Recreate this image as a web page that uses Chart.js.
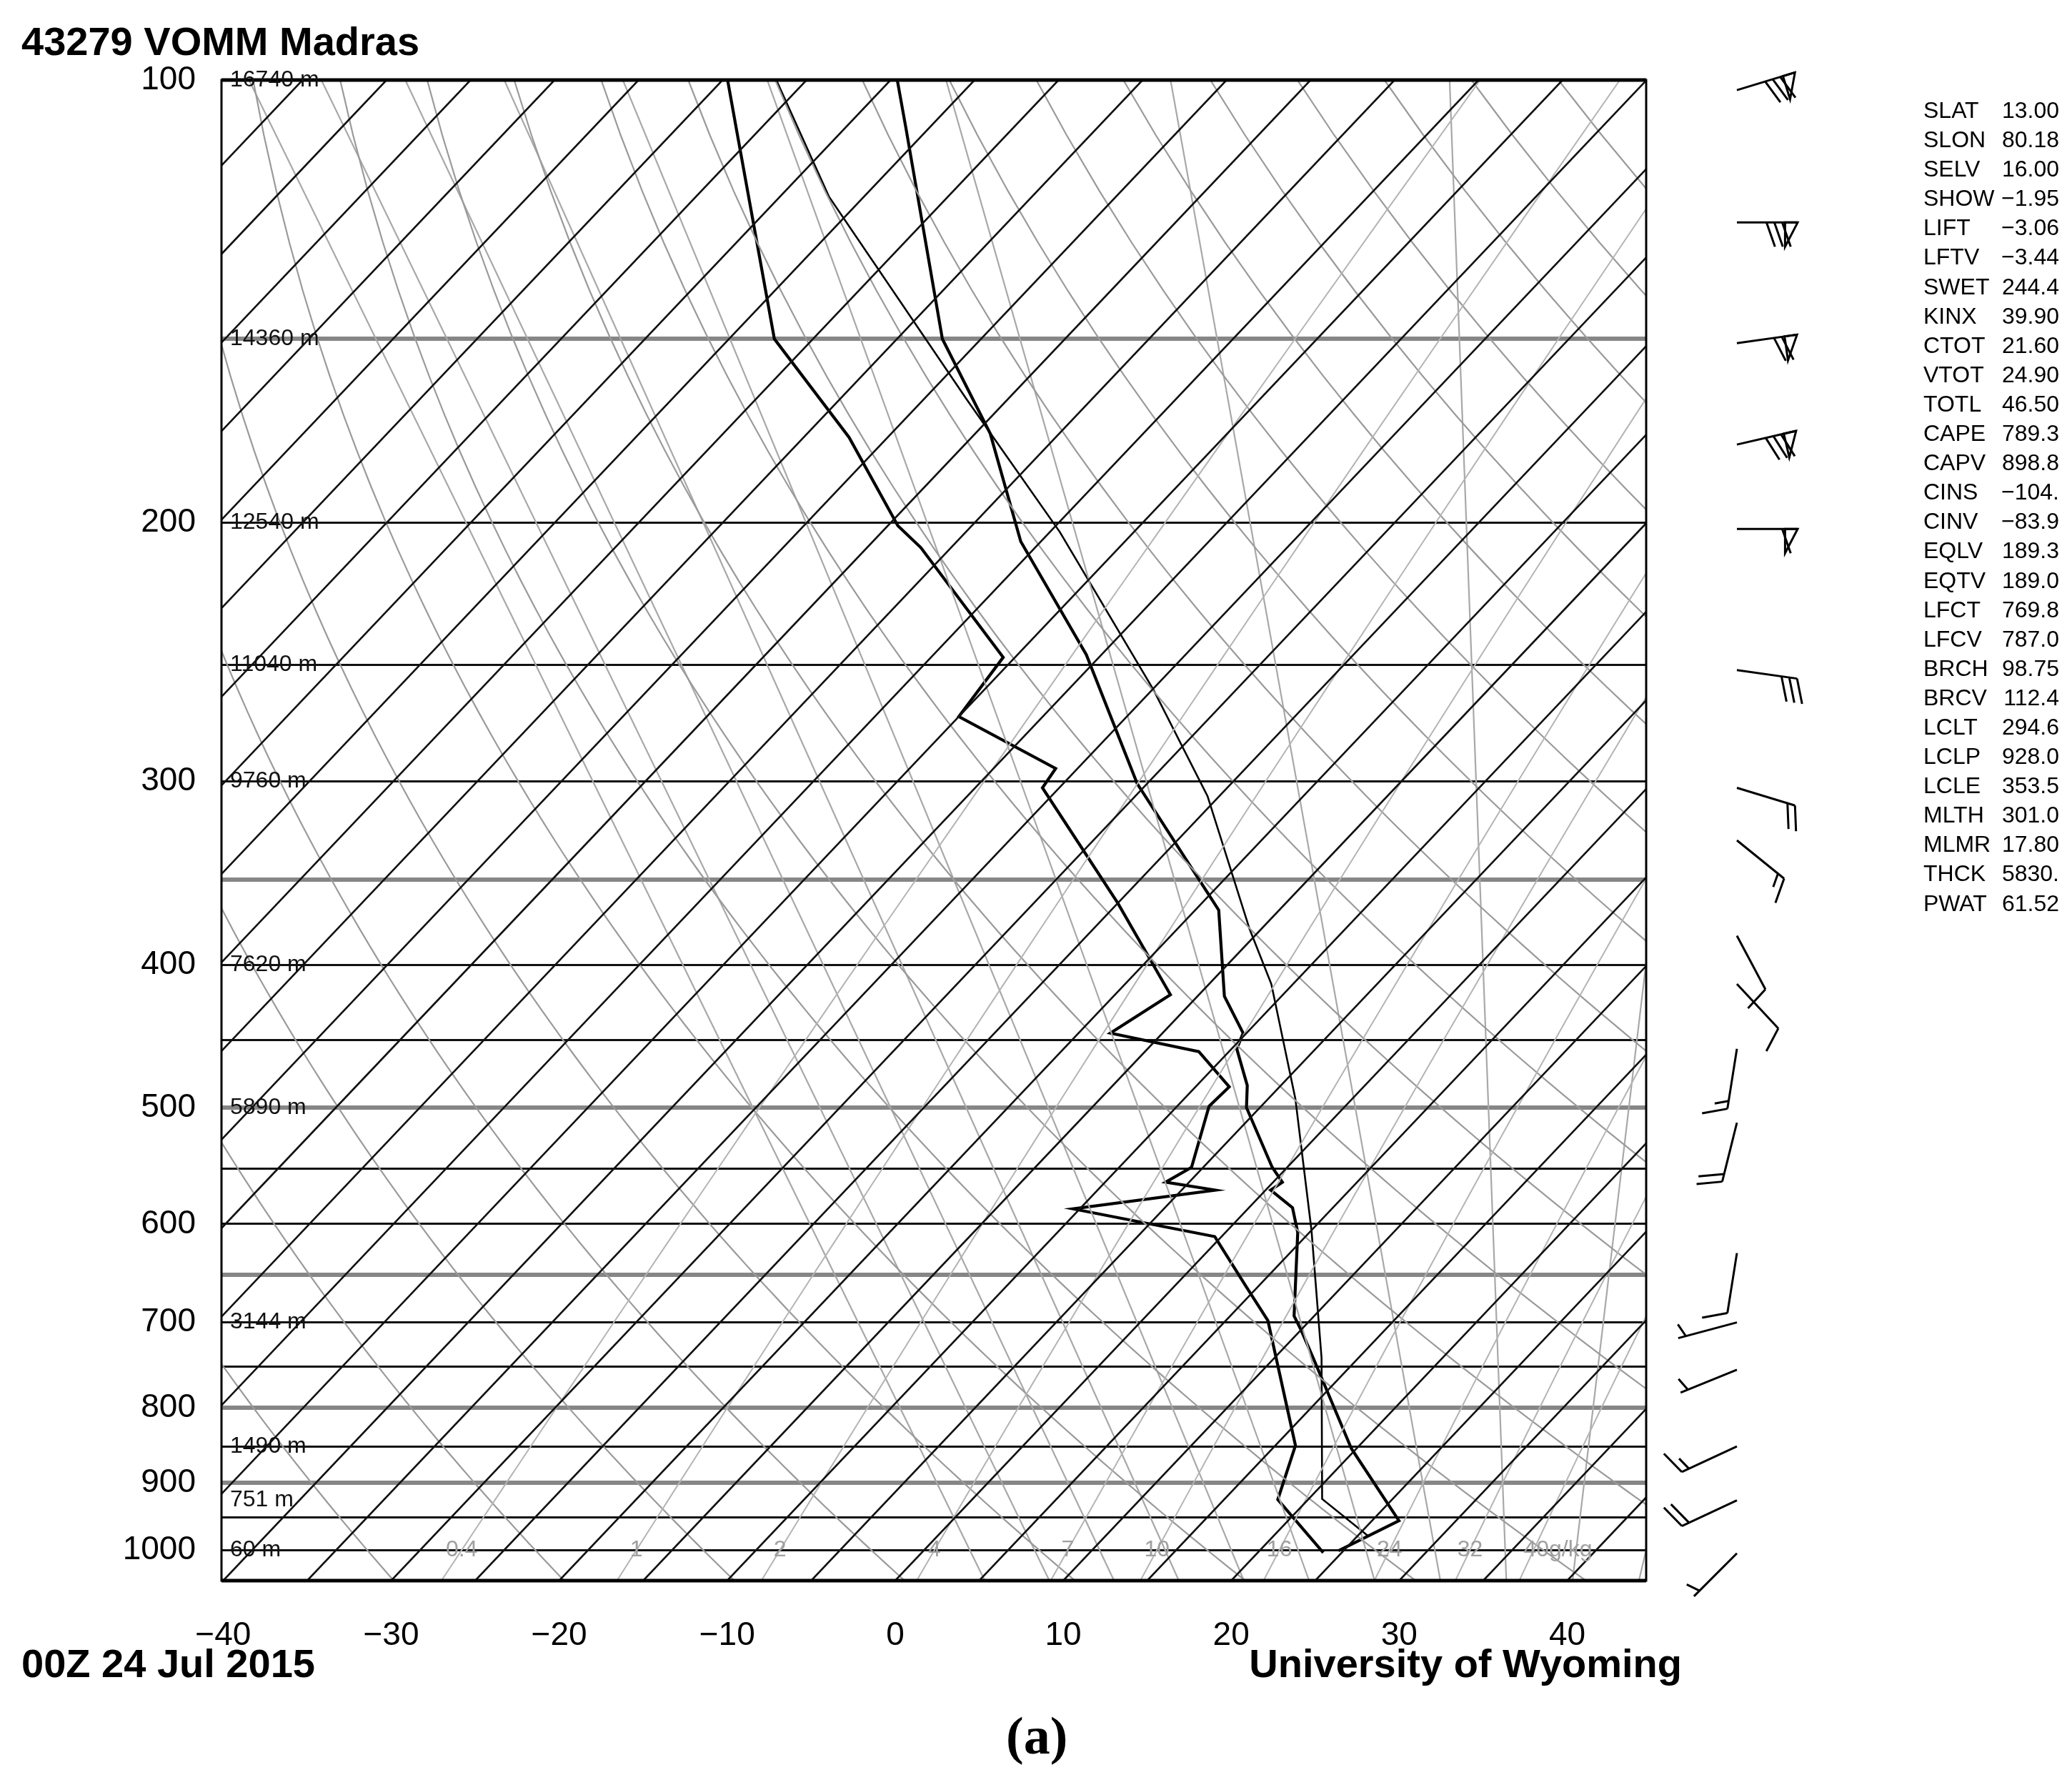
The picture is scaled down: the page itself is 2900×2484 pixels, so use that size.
<!DOCTYPE html>
<html>
<head>
<meta charset="utf-8">
<script src="https://cdn.jsdelivr.net/npm/chart.js@4.4.1/dist/chart.umd.min.js"></script>
<style>
  body { margin: 0; background: #fff; font-family: "Liberation Sans", Arial, sans-serif; }
  #wrap { position: relative; width: 2900px; height: 2484px; }
  canvas { position: absolute; left: 0; top: 0; }
  .t { position: absolute; white-space: nowrap; line-height: 1; }
  .big { font-weight: bold; font-size: 56px; }
  #idx { position: absolute; left: 2692px; top: 134px; width: 190px; font-size: 32px; }
  #idx div { height: 41.1px; line-height: 41.1px; position: relative; }
  #idx span { position: absolute; right: 0; }
</style>
</head>
<body>
<div id="wrap">
  <canvas id="skewt" width="2900" height="2484"></canvas>
  <div class="t big" style="left:30px;top:30px;">43279 VOMM Madras</div>
  <div class="t big" style="left:30px;top:2300px;">00Z 24 Jul 2015</div>
  <div class="t big" style="right:546px;top:2300px;">University of Wyoming</div>
  <div class="t" style="left:1408px;top:2392px;font-family:'Liberation Serif',serif;font-weight:bold;font-size:74px;">(a)</div>
  <div id="idx"></div>
</div>
<script>
// skew: degrees of x shift per decade of pressure, bottom pressure of the diagram
const SKEW = 83;
const P_BOT = 1049;

// sounding (hPa, degC)
const tempP = [1001, 955, 853, 740, 707, 693, 608, 585, 569, 562, 549, 500, 483, 456, 445, 420, 367, 301, 246, 206, 174, 150, 108, 100];
const tempT = [24.7, 26.6, 19.7, 12.3, 9.9, 8.8, 4.3, 2.6, 0.3, 0.55, -0.9, -5.8, -7.0, -9.7, -10.2, -13.4, -18.6, -30.6, -40.9, -51.2, -59.1, -67.3, -81.3, -84.6];
const dewP = [1004, 924, 849, 698, 662, 612, 586, 569, 562, 549, 499, 484, 458, 445, 419, 363, 303, 294, 271, 247, 208, 201, 175, 150, 108, 100];
const dewT = [23.9, 18.2, 16.2, 7.5, 4.3, -0.4, -10.4, -3.0, -6.4, -5.7, -8.1, -8.0, -11.8, -18.1, -16.7, -25.0, -36.0, -36.3, -45.0, -45.7, -56.8, -59.4, -67.3, -77.3, -91.4, -94.7];
// lifted parcel path
const parcelP = [979, 923, 740, 606, 493, 412, 378, 307, 260, 203, 165, 120, 100];
const parcelT = [25.7, 20.8, 12.8, 5.0, -3.4, -11.3, -15.7, -25.7, -34.9, -49.4, -62.4, -82.1, -91.8];

// pressure levels drawn as horizontal lines
const levels = [100, 150, 200, 250, 300, 350, 400, 450, 500, 550, 600, 650, 700, 750, 800, 850, 900, 950, 1000];
const grayLevels = [150, 350, 500, 650, 800, 900];
const labelLevels = [100, 200, 300, 400, 500, 600, 700, 800, 900, 1000];
const xTicks = [-40, -30, -20, -10, 0, 10, 20, 30, 40];

// standard heights
const heightP = [100, 150, 200, 250, 300, 400, 500, 700, 850, 925, 1000];
const heightM = ['16740 m', '14360 m', '12540 m', '11040 m', '9760 m', '7620 m', '5890 m', '3144 m', '1490 m', '751 m', '60 m'];

// wind barbs
const windP = [101.6, 125, 151, 177, 202, 252, 303, 329, 382, 412, 456, 512, 628, 700, 754, 850, 925, 1005];
const windDir = [73, 90, 82, 77, 90, 98, 107, 129, 152, 137, 189, 194, 189, 255, 248, 245, 245, 225];
const windKt = [80, 80, 70, 80, 60, 30, 20, 15, 10, 10, 15, 20, 10, 5, 5, 15, 20, 5];

// station indices
const idxNames = ['SLAT', 'SLON', 'SELV', 'SHOW', 'LIFT', 'LFTV', 'SWET', 'KINX', 'CTOT', 'VTOT', 'TOTL', 'CAPE', 'CAPV', 'CINS', 'CINV', 'EQLV', 'EQTV', 'LFCT', 'LFCV', 'BRCH', 'BRCV', 'LCLT', 'LCLP', 'LCLE', 'MLTH', 'MLMR', 'THCK', 'PWAT'];
const idxVals = ['13.00', '80.18', '16.00', '\u22121.95', '\u22123.06', '\u22123.44', '244.4', '39.90', '21.60', '24.90', '46.50', '789.3', '898.8', '\u2212104.', '\u221283.9', '189.3', '189.0', '769.8', '787.0', '98.75', '112.4', '294.6', '928.0', '353.5', '301.0', '17.80', '5830.', '61.52'];

// background line sets
const isotherms = [];
for (let t = -125; t <= 45; t += 5) isotherms.push(t);
const thetas = [];
for (let th = 200; th <= 470; th += 10) thetas.push(th);
const moistStart = [3, 7, 11, 15, 19, 23, 27, 31, 35, 39, 43];
const mixRatios = [0.4, 1, 2, 4, 7, 10, 16, 24, 32, 40];
const mixLabels = ['0.4', '1', '2', '4', '7', '10', '16', '24', '32', '40g/kg'];

const sx = (t, p) => t + SKEW * Math.log10(P_BOT / p);
const pts = (ps, ts) => ps.map((p, i) => ({ x: sx(ts[i], p), y: p }));

function pressures(step) {
  const out = [];
  for (let p = P_BOT; p >= 100; p -= step) out.push(p);
  if (out[out.length - 1] !== 100) out.push(100);
  return out;
}

function es(t) { return 6.112 * Math.exp(17.67 * t / (t + 243.5)); }

function dryLine(th) {
  return pressures(10).map(p => ({ x: sx(th * Math.pow(p / 1000, 0.2857) - 273.15, p), y: p }));
}

function moistLine(t1000) {
  const Rd = 287, cp = 1004, Lv = 2.5e6;
  const dTdp = (t, p) => {
    const tk = t + 273.15;
    const rs = 0.622 * es(t) / (p - es(t));
    return (Rd * tk + Lv * rs) / (p * (cp + Lv * Lv * rs * 0.622 / (Rd * tk * tk)));
  };
  const out = [];
  let t = t1000, p = 1000;
  while (p < P_BOT) { t += dTdp(t, p) * 1; p += 1; }
  out.push({ x: sx(t, p), y: p });
  while (p > 100) {
    t -= dTdp(t, p) * 2; p -= 2;
    if (p % 10 === 0 || p <= 100) out.push({ x: sx(t, p), y: p });
  }
  return out;
}

function mixTd(w, p) {
  const e = (w / 1000) * p / (0.622 + w / 1000);
  const l = Math.log(e / 6.112);
  return 243.5 * l / (17.67 - l);
}
function mixLine(w) {
  return pressures(25).map(p => ({ x: sx(mixTd(w, p), p), y: p }));
}

const lineDs = (data, color, width, extra) => Object.assign({
  data, borderColor: color, borderWidth: width, showLine: true, pointRadius: 0, tension: 0, fill: false
}, extra || {});

const datasets = [];
isotherms.forEach(t => datasets.push(lineDs([{ x: sx(t, P_BOT), y: P_BOT }, { x: sx(t, 100), y: 100 }], '#111', 2.6)));
mixRatios.forEach(w => datasets.push(lineDs(mixLine(w), '#b4b4b4', 2)));
thetas.forEach(th => datasets.push(lineDs(dryLine(th), '#9a9a9a', 2.2)));
moistStart.forEach(t => datasets.push(lineDs(moistLine(t), '#a8a8a8', 2.2)));
datasets.push(lineDs(pts(parcelP, parcelT), '#000', 2.6));
datasets.push(lineDs(pts(dewP, dewT), '#000', 4.2));
datasets.push(lineDs(pts(tempP, tempT), '#000', 4.2));

const decorations = {
  id: 'decorations',
  afterDatasetsDraw(chart) {
    const { ctx, chartArea: a, scales: { x, y } } = chart;
    ctx.save();
    // frame
    ctx.strokeStyle = '#000';
    ctx.lineWidth = 3;
    ctx.strokeRect(a.left, a.top, a.right - a.left, a.bottom - a.top);
    ctx.lineWidth = 5;
    ctx.beginPath();
    ctx.moveTo(a.left, a.top); ctx.lineTo(a.right, a.top);
    ctx.moveTo(a.left, a.bottom); ctx.lineTo(a.right, a.bottom);
    ctx.stroke();

    // height labels
    ctx.fillStyle = '#111';
    ctx.font = '32px "Liberation Sans Narrow", "Liberation Sans", sans-serif';
    ctx.textBaseline = 'middle';
    ctx.textAlign = 'left';
    heightP.forEach((p, i) => ctx.fillText(heightM[i], a.left + 12, y.getPixelForValue(p)));

    // mixing ratio labels
    ctx.fillStyle = '#a0a0a0';
    mixRatios.forEach((w, i) => {
      const px = x.getPixelForValue(sx(mixTd(w, 1000), 1000));
      const al = i === mixRatios.length - 1 ? 'left' : 'center';
      ctx.textAlign = al;
      ctx.fillText(mixLabels[i], al === 'left' ? px - 14 : px, y.getPixelForValue(1000));
    });

    // wind barbs
    ctx.strokeStyle = '#000';
    ctx.lineWidth = 3;
    const bx = a.right + 127, L = 85, FL = 34, SP = 11;
    windP.forEach((p, i) => {
      const by = y.getPixelForValue(p);
      const th = windDir[i] * Math.PI / 180;
      const dx = Math.sin(th), dy = -Math.cos(th);
      const fx = -dy, fy = dx;
      const tx = bx + dx * L, ty = by + dy * L;
      ctx.beginPath();
      ctx.moveTo(bx, by); ctx.lineTo(tx, ty);
      ctx.stroke();
      let s = windKt[i], pos = 0;
      const at = d => [tx - dx * d, ty - dy * d];
      while (s >= 50) {
        const [x0, y0] = at(pos), [x1, y1] = at(pos + SP * 1.6);
        ctx.beginPath();
        ctx.moveTo(x0, y0);
        ctx.lineTo(x1 + fx * FL, y1 + fy * FL);
        ctx.lineTo(x1, y1);
        ctx.closePath();
        ctx.stroke();
        pos += SP * 1.6 + 4; s -= 50;
      }
      let first = true;
      while (s >= 5) {
        const len = s >= 10 ? FL : FL * 0.55;
        if (s < 10 && first && pos === 0) pos = SP;
        const [x0, y0] = at(pos);
        ctx.beginPath();
        ctx.moveTo(x0, y0);
        ctx.lineTo(x0 + fx * len + dx * len * 0.35, y0 + fy * len + dy * len * 0.35);
        ctx.stroke();
        pos += SP; s -= s >= 10 ? 10 : 5; first = false;
      }
    });
    ctx.restore();
  }
};

new Chart(document.getElementById('skewt'), {
  type: 'scatter',
  data: { datasets },
  options: {
    responsive: false,
    devicePixelRatio: 1,
    animation: false,
    events: [],
    layout: { padding: { left: 0, right: 596, top: 112, bottom: 0 } },
    plugins: { legend: { display: false }, tooltip: { enabled: false } },
    scales: {
      x: {
        type: 'linear', min: -40.1, max: 44.7,
        afterBuildTicks: s => { s.ticks = xTicks.map(v => ({ value: v })); },
        afterFit: s => { s.height = 272; },
        grid: { display: false },
        border: { display: false },
        ticks: {
          padding: 42, color: '#000',
          font: { family: '"Liberation Sans", Arial, sans-serif', size: 46 },
          callback: v => String(v).replace('-', '\u2212')
        }
      },
      y: {
        type: 'logarithmic', min: 100, max: P_BOT, reverse: true,
        afterBuildTicks: s => { s.ticks = levels.map(v => ({ value: v })); },
        afterFit: s => { s.width = 310; },
        border: { display: false },
        grid: {
          drawTicks: false,
          color: c => grayLevels.includes(c.tick.value) ? '#868686' : '#111',
          lineWidth: c => grayLevels.includes(c.tick.value) ? 6 : 3
        },
        ticks: {
          padding: 36, color: '#000',
          font: { family: '"Liberation Sans", Arial, sans-serif', size: 46 },
          callback: v => labelLevels.includes(v) ? String(v) : ''
        }
      }
    }
  },
  plugins: [decorations]
});

const idx = document.getElementById('idx');
idxNames.forEach((n, i) => {
  const row = document.createElement('div');
  row.textContent = n;
  const v = document.createElement('span');
  v.textContent = idxVals[i];
  row.appendChild(v);
  idx.appendChild(row);
});
</script>
</body>
</html>
